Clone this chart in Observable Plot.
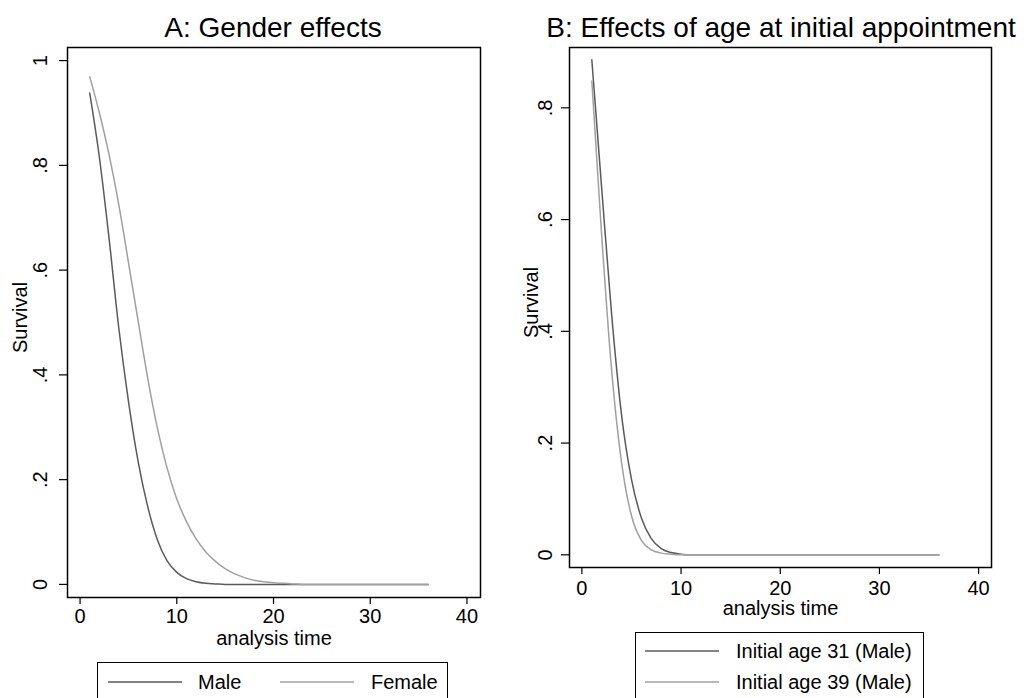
<!DOCTYPE html>
<html><head><meta charset="utf-8">
<script src="https://cdn.jsdelivr.net/npm/d3@7"></script>
<script src="https://cdn.jsdelivr.net/npm/@observablehq/plot@0.6"></script>
<style>
body{margin:0;background:#fff;font-family:"Liberation Sans",Arial,sans-serif;color:#000;}
#root{position:relative;width:1024px;height:698px;overflow:hidden;background:#fff;}
.title{position:absolute;top:11px;font-size:28px;white-space:nowrap;transform:translateX(-50%);line-height:34px;}
.panel{position:absolute;top:40px;}
.legend{position:absolute;border:1.2px solid #000;box-sizing:border-box;background:#fff;}
.item{position:absolute;display:flex;align-items:center;font-size:20px;white-space:nowrap;height:26px;}
.item svg{display:block;}
</style>
</head><body><div id="root"></div>
<script>
// ---- data ----
const times = [1,2,3,4,5,6,7,8,9,10,11,12,13,14,15,16,17,18,19,20,21,22,23,24,25,26,27,28,29,30,31,32,33,34,35,36];
const maleA   = [0.938,0.815,0.66,0.49,0.35,0.235,0.148,0.085,0.045,0.023,0.011,0.005,0.002,0.001,0,0,0,0,0,0,0,0,0,0,0,0,0,0,0,0,0,0,0,0,0,0];
const femaleA = [0.969,0.90,0.82,0.725,0.615,0.503,0.393,0.298,0.222,0.163,0.12,0.087,0.062,0.044,0.03,0.02,0.013,0.008,0.005,0.003,0.002,0.001,0,0,0,0,0,0,0,0,0,0,0,0,0,0];
const age31B  = [0.886,0.655,0.43,0.25,0.135,0.066,0.029,0.011,0.004,0.001,0,0,0,0,0,0,0,0,0,0,0,0,0,0,0,0,0,0,0,0,0,0,0,0,0,0];
const age39B  = [0.848,0.57,0.33,0.165,0.07,0.026,0.009,0.003,0.001,0,0,0,0,0,0,0,0,0,0,0,0,0,0,0,0,0,0,0,0,0,0,0,0,0,0,0];
const namesA = ["Male","Female"];
const namesB = ["Initial age 31 (Male)","Initial age 39 (Male)"];
const colors = ["#5a5a5a","#a0a0a0"];
const xTicks = [0,10,20,30,40];
const yTicksA = [0,0.2,0.4,0.6,0.8,1];
const yTicksB = [0,0.2,0.4,0.6,0.8];
const titleA = "A: Gender effects";
const titleB = "B: Effects of age at initial appointment";
const xLabel = "analysis time";
const yLabel = "Survival";

const fmt = d => d === 0 ? "0" : d === 1 ? "1" : String(d).replace(/^0/, "");

function makePanel({series, names, xDomain, yDomain, yTicks, margins, yLabDx, survDx, survDy, xPad}) {
  const data = [];
  series.forEach((vals, i) => vals.forEach((v, j) => data.push({t: times[j], s: v, g: names[i]})));
  return Plot.plot({
    width: 512, height: 615,
    ...margins,
    style: {fontFamily: "Liberation Sans, Arial, sans-serif", fontSize: "20px", color: "#000", background: "transparent", overflow: "visible"},
    x: {domain: xDomain},
    y: {domain: yDomain},
    color: {domain: names, range: colors},
    marks: [
      Plot.line(data, {x: "t", y: "s", z: "g", stroke: "g", strokeWidth: 1.5, curve: "monotone-x"}),
      Plot.frame({stroke: "#000", strokeWidth: 1.5}),
      Plot.axisX({ticks: xTicks, tickSize: 7, tickPadding: xPad, tickFormat: d => String(d), label: null, strokeWidth: 1.2}),
      Plot.axisY({ticks: yTicks, tickSize: 8, tickFormat: () => "", label: null, strokeWidth: 1.2}),
      Plot.text(yTicks, {y: d => d, text: fmt, frameAnchor: "left", textAnchor: "middle", lineAnchor: "middle", rotate: -90, dx: yLabDx, fontSize: 20}),
      Plot.text([xLabel], {text: d => d, frameAnchor: "bottom", textAnchor: "middle", lineAnchor: "middle", dy: 41, fontSize: 20}),
      Plot.text([yLabel], {text: d => d, frameAnchor: "left", textAnchor: "middle", lineAnchor: "middle", rotate: -90, dx: survDx, dy: survDy, fontSize: 20})
    ]
  });
}

const root = document.getElementById("root");

const pA = makePanel({
  series: [maleA, femaleA], names: namesA,
  xDomain: [-1.3, 41.4], yDomain: [-0.025, 1.025], yTicks: yTicksA,
  margins: {marginLeft: 67, marginRight: 32, marginTop: 7, marginBottom: 58},
  yLabDx: -27, survDx: -47, survDy: -5, xPad: 4
});
pA.classList.add("panel"); pA.style.left = "0px";
root.appendChild(pA);

const pB = makePanel({
  series: [age31B, age39B], names: namesB,
  xDomain: [-1.25, 41.3], yDomain: [-0.0227, 0.908], yTicks: yTicksB,
  margins: {marginLeft: 57, marginRight: 33, marginTop: 7, marginBottom: 88},
  yLabDx: -24, survDx: -38, survDy: -5, xPad: 6
});
pB.classList.add("panel"); pB.style.left = "512px";
root.appendChild(pB);

function addTitle(text, cx) {
  const d = document.createElement("div");
  d.className = "title"; d.textContent = text; d.style.left = cx + "px";
  root.appendChild(d);
}
addTitle(titleA, 273);
addTitle(titleB, 781);

function swatch(color) {
  const ns = "http://www.w3.org/2000/svg";
  const s = document.createElementNS(ns, "svg");
  s.setAttribute("width", 74); s.setAttribute("height", 4);
  const l = document.createElementNS(ns, "line");
  l.setAttribute("x1", 0); l.setAttribute("x2", 74); l.setAttribute("y1", 2); l.setAttribute("y2", 2);
  l.setAttribute("stroke", color); l.setAttribute("stroke-width", 1.5);
  s.appendChild(l);
  return s;
}
function addLegend(box, items) {
  const lg = document.createElement("div");
  lg.className = "legend";
  Object.assign(lg.style, {left: box.x + "px", top: box.y + "px", width: box.w + "px", height: box.h + "px"});
  items.forEach(it => {
    const d = document.createElement("div");
    d.className = "item";
    d.style.left = it.x + "px"; d.style.top = (it.y - 13) + "px";
    const sw = swatch(it.color); sw.style.marginRight = it.gap + "px";
    d.appendChild(sw);
    const sp = document.createElement("span"); sp.textContent = it.name;
    d.appendChild(sp);
    lg.appendChild(d);
  });
  root.appendChild(lg);
}
addLegend({x: 97, y: 662, w: 351, h: 40}, [
  {name: namesA[0], color: colors[0], x: 10, y: 19, gap: 16},
  {name: namesA[1], color: colors[1], x: 182, y: 19, gap: 17}
]);
addLegend({x: 635, y: 632, w: 289, h: 70}, [
  {name: namesB[0], color: colors[0], x: 9, y: 18, gap: 17},
  {name: namesB[1], color: colors[1], x: 9, y: 49, gap: 17}
]);
</script>
</body></html>
